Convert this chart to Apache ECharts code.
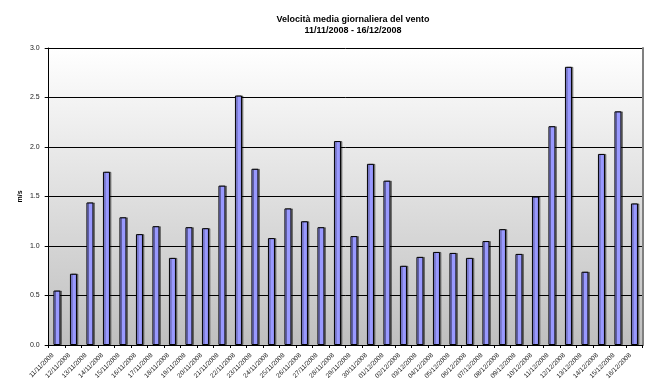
<!DOCTYPE html>
<html>
<head>
<meta charset="utf-8">
<script src="https://cdn.jsdelivr.net/npm/echarts@6/dist/echarts.min.js"></script>
<style>
  html, body { margin: 0; padding: 0; background: #fff; }
  #chart { width: 652px; height: 388px; }
</style>
</head>
<body>
<div id="chart"></div>
<script>
// Daily dates, 11/11/2008 .. 16/12/2008
const days = [
  '11/11/2008','12/11/2008','13/11/2008','14/11/2008','15/11/2008','16/11/2008',
  '17/11/2008','18/11/2008','19/11/2008','20/11/2008','21/11/2008','22/11/2008',
  '23/11/2008','24/11/2008','25/11/2008','26/11/2008','27/11/2008','28/11/2008',
  '29/11/2008','30/11/2008','01/12/2008','02/12/2008','03/12/2008','04/12/2008',
  '05/12/2008','06/12/2008','07/12/2008','08/12/2008','09/12/2008','10/12/2008',
  '11/12/2008','12/12/2008','13/12/2008','14/12/2008','15/12/2008','16/12/2008'
];

// Mean daily wind speed (m/s)
const windSpeed = [
  0.55, 0.72, 1.44, 1.75, 1.29, 1.12,
  1.20, 0.88, 1.19, 1.18, 1.61, 2.52,
  1.78, 1.08, 1.38, 1.25, 1.19, 2.06,
  1.10, 1.83, 1.66, 0.80, 0.89, 0.94,
  0.93, 0.88, 1.05, 1.17, 0.92, 1.50,
  2.21, 2.81, 0.74, 1.93, 2.36, 1.43
];

const titleLines = ['Velocità media giornaliera del vento', '11/11/2008 - 16/12/2008'];
const unitLabel = 'm/s';

const chart = echarts.init(document.getElementById('chart'), null, { renderer: 'canvas' });

const FONT = 'Liberation Sans, Arial, sans-serif';

chart.setOption({
  animation: false,
  backgroundColor: '#ffffff',
  title: {
    text: titleLines.join('\n'),
    left: 348,
    top: 9,
    textAlign: 'center',
    textStyle: {
      fontFamily: FONT,
      fontSize: 9,
      fontWeight: 'bold',
      color: '#000',
      lineHeight: 11
    }
  },
  grid: {
    left: 48.7,
    right: 9.3,
    top: 48,
    bottom: 43,
    show: true,
    borderWidth: 0,
    backgroundColor: new echarts.graphic.LinearGradient(0, 0, 0, 1, [
      { offset: 0, color: '#ffffff' },
      { offset: 1, color: '#bfbfbf' }
    ])
  },
  xAxis: [{
    type: 'category',
    data: days,
    boundaryGap: true,
    axisLine: { show: true, lineStyle: { color: '#000', width: 1 } },
    axisTick: { show: true, alignWithLabel: false, length: 3, lineStyle: { color: '#000' } },
    axisLabel: {
      interval: 0,
      rotate: 45,
      margin: 5,
      fontFamily: FONT,
      fontSize: 6.5,
      color: '#222',
      padding: [0, 6, 0, 0]
    },
    splitLine: { show: false }
  }, {
    // top edge of the plot frame
    type: 'category',
    data: days,
    position: 'top',
    axisLine: { show: true, lineStyle: { color: '#000', width: 1 } },
    axisTick: { show: false },
    axisLabel: { show: false }
  }],
  yAxis: [{
    type: 'value',
    min: 0,
    max: 3,
    interval: 0.5,
    name: unitLabel,
    nameLocation: 'middle',
    nameGap: 25,
    nameMoveOverlap: false,
    nameTextStyle: { fontFamily: FONT, fontSize: 7, fontWeight: 'bold', color: '#000' },
    axisLine: { show: true, lineStyle: { color: '#000', width: 1 } },
    axisTick: { show: true, length: 4, lineStyle: { color: '#000' } },
    axisLabel: {
      margin: 9,
      fontFamily: FONT,
      fontSize: 7,
      color: '#222',
      formatter: v => v.toFixed(1)
    },
    splitLine: { show: true, lineStyle: { color: '#000', width: 1 } }
  }, {
    // right edge of the plot frame
    type: 'value',
    min: 0,
    max: 3,
    interval: 0.5,
    position: 'right',
    axisLine: { show: true, lineStyle: { color: '#808080', width: 2 } },
    axisTick: { show: false },
    axisLabel: { show: false },
    splitLine: { show: false }
  }],
  series: [{
    type: 'bar',
    data: windSpeed,
    barWidth: 7,
    itemStyle: {
      color: '#9999ff',
      borderColor: '#000',
      borderWidth: 1,
      shadowColor: 'rgba(0,0,0,0.4)',
      shadowOffsetX: 1.5,
      shadowOffsetY: 0,
      shadowBlur: 0
    }
  }]
});
</script>
</body>
</html>
